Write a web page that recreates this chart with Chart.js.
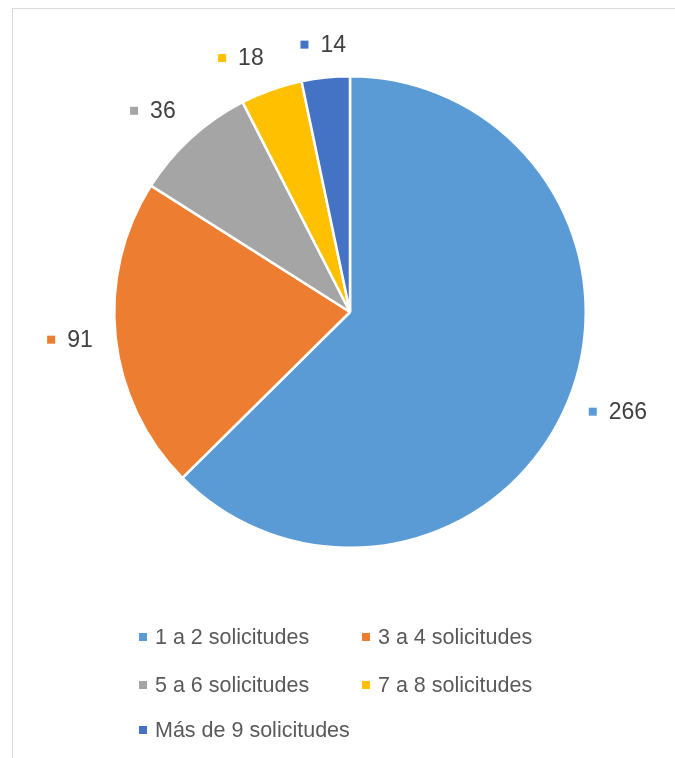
<!DOCTYPE html>
<html>
<head>
<meta charset="utf-8">
<script src="https://cdn.jsdelivr.net/npm/chart.js@4/dist/chart.umd.min.js"></script>
<style>
  html, body { margin: 0; padding: 0; background: #fff; }
  #wrap { position: relative; width: 675px; height: 758px; }
  #frame { position: absolute; left: 12px; top: 8px; right: -2px; bottom: -2px; border: 1px solid #d9d9d9; }
</style>
</head>
<body>
<div id="wrap">
  <div id="frame"></div>
  <canvas id="grafico" width="675" height="758"></canvas>
</div>
<script>
const categorias = ['1 a 2 solicitudes', '3 a 4 solicitudes', '5 a 6 solicitudes', '7 a 8 solicitudes', 'Más de 9 solicitudes'];
const valores = [266, 91, 36, 18, 14];
const colores = ['#5B9BD5', '#ED7D31', '#A5A5A5', '#FFC000', '#4472C4'];

// etiquetas de valor fuera de cada porcion, con su cuadradito de color
const etiquetas = {
    id: 'etiquetas',
    afterDatasetsDraw(chart) {
        const ctx = chart.ctx;
        const meta = chart.getDatasetMeta(0);
        ctx.save();
        ctx.font = '23px "Liberation Sans", sans-serif';
        ctx.textBaseline = 'middle';
        ctx.textAlign = 'left';
        meta.data.forEach((arc, i) => {
            const ang = (arc.startAngle + arc.endAngle) / 2;
            const dx = Math.cos(ang), dy = Math.sin(ang);
            const texto = String(valores[i]);
            const w = 20 + ctx.measureText(texto).width, h = 20;
            const r = arc.outerRadius + 23;
            const px = arc.x + dx * r, py = arc.y + dy * r;
            // la caja se ancla por el lado que mira hacia el pastel
            let x0 = px - w / 2;
            if (dx > 0.2) x0 = px;
            else if (dx < -0.2) x0 = px - w;
            let yc = py;
            if (dy > 0.5) yc = py + h / 2;
            else if (dy < -0.5) yc = py - h / 2;
            ctx.fillStyle = colores[i];
            ctx.fillRect(x0, yc - 4, 8, 8);
            ctx.fillStyle = '#404040';
            ctx.fillText(texto, x0 + 20, yc + 1);
        });
        ctx.restore();
    }
};

// leyenda en dos columnas bajo el grafico
const leyenda = {
    id: 'leyenda',
    afterDraw(chart) {
        const ctx = chart.ctx;
        ctx.save();
        ctx.font = '21.5px "Liberation Sans", sans-serif';
        ctx.textBaseline = 'middle';
        ctx.textAlign = 'left';
        const colX = [139, 362];
        const filaY = [637, 685, 730];
        categorias.forEach((cat, i) => {
            const x = colX[i % 2], y = filaY[Math.floor(i / 2)];
            ctx.fillStyle = colores[i];
            ctx.fillRect(x, y - 4, 8, 8);
            ctx.fillStyle = '#595959';
            ctx.fillText(cat, x + 16, y + 1);
        });
        ctx.restore();
    }
};

new Chart(document.getElementById('grafico'), {
    type: 'pie',
    data: {
        labels: categorias,
        datasets: [{
            data: valores,
            backgroundColor: colores,
            borderColor: '#ffffff',
            borderWidth: 2.5
        }]
    },
    options: {
        responsive: false,
        animation: false,
        layout: { padding: { left: 113, right: 88, top: 75, bottom: 209 } },
        plugins: {
            legend: { display: false },
            tooltip: { enabled: false }
        }
    },
    plugins: [etiquetas, leyenda]
});
</script>
</body>
</html>
